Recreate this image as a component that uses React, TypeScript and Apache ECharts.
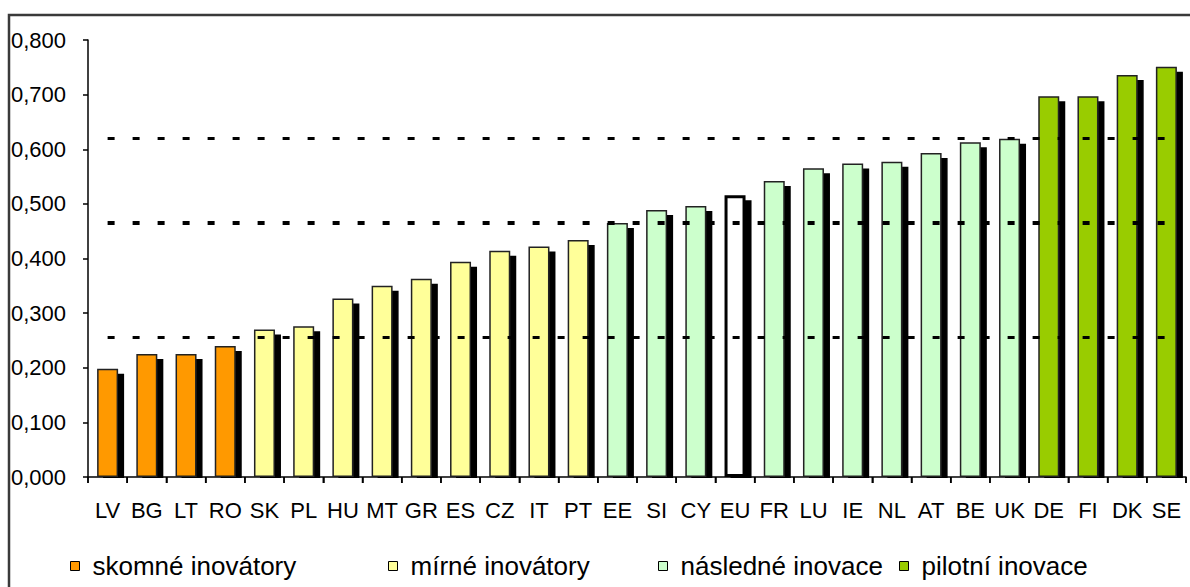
import React, { useEffect, useRef } from "react";
import * as echarts from "echarts";

const categories = ["LV","BG","LT","RO","SK","PL","HU","MT","GR","ES","CZ","IT","PT","EE","SI","CY","EU","FR","LU","IE","NL","AT","BE","UK","DE","FI","DK","SE"];
const values = [0.198,0.225,0.225,0.240,0.270,0.276,0.327,0.350,0.363,0.394,0.414,0.422,0.434,0.465,0.489,0.496,0.516,0.542,0.565,0.574,0.577,0.593,0.613,0.619,0.697,0.697,0.736,0.751];
const groupIndex = [0,0,0,0,1,1,1,1,1,1,1,1,1,2,2,2,2,2,2,2,2,2,2,2,3,3,3,3];
const groupNames = ["skomné inovátory","mírné inovátory","následné inovace","pilotní inovace"];
const groupColors = ["#FF9900","#FFFF99","#CCFFCC","#99CC00"];
const thresholds = [0.620, 0.465, 0.256];
const thresholdWidths = [3, 4, 3];
const yTicks = [0, 0.1, 0.2, 0.3, 0.4, 0.5, 0.6, 0.7, 0.8];
const highlightCategory = "EU";

const FONT = "'Liberation Sans', Arial, sans-serif";

export default function App() {
  const ref = useRef<HTMLDivElement>(null);
  useEffect(() => {
    document.body.style.margin = "0";
    if (!ref.current) return;
    const chart = echarts.init(ref.current, null, { renderer: "svg" });

    const series: any[] = groupNames.map((name, g) => ({
      name,
      type: "bar",
      barWidth: 21,
      barGap: "-100%",
      z: 2,
      itemStyle: {
        color: groupColors[g],
        borderColor: "#222",
        borderWidth: 1.5,
        shadowColor: "#000",
        shadowBlur: 0,
        shadowOffsetX: 6,
        shadowOffsetY: 5,
      },
      data: values.map((v, i) => {
        if (groupIndex[i] !== g) return null;
        if (categories[i] === highlightCategory) {
          return { value: v, itemStyle: { color: "#fff", borderColor: "#000", borderWidth: 3 } };
        }
        return v;
      }),
    }));

    series.push({
      name: "thresholds",
      type: "line",
      data: [],
      silent: true,
      markLine: {
        silent: true,
        symbol: "none",
        label: { show: false },
        z: 10,
        data: thresholds.map((t, k) => [
          { xAxis: categories[0], yAxis: t, lineStyle: { color: "#000", width: thresholdWidths[k], type: [7, 18] } },
          { xAxis: categories[categories.length - 1], yAxis: t },
        ]),
      },
    });

    const frameEl = {
      type: "rect",
      id: "frame",
      silent: true,
      shape: { x: 9, y: 15, width: 1200, height: 620 },
      style: { fill: "none", stroke: "#3a3a3a", lineWidth: 2.5 },
      z: -1,
    };

    const legendLefts = [70, 388, 658, 899];
    chart.setOption({
      animation: false,
      textStyle: { fontFamily: FONT },
      grid: { left: 88, right: 4, top: 40, bottom: 110, containLabel: false },
      xAxis: {
        type: "category",
        data: categories,
        axisLine: { lineStyle: { color: "#000", width: 1.5 } },
        axisTick: { show: true, interval: 0, length: 6, lineStyle: { color: "#000", width: 1.5 } },
        axisLabel: { color: "#000", fontSize: 22, fontFamily: FONT, margin: 22, interval: 0 },
      },
      yAxis: {
        type: "value",
        min: 0,
        max: 0.8,
        interval: 0.1,
        splitLine: { show: false },
        axisLine: { show: true, lineStyle: { color: "#000", width: 1.5 } },
        axisTick: { show: true, length: 5, lineStyle: { color: "#000", width: 1.5 } },
        axisLabel: {
          color: "#000",
          fontSize: 22,
          fontFamily: FONT,
          align: "left",
          margin: 77,
          formatter: (v: number) => {
            const nearest = yTicks.reduce((a, b) => (Math.abs(b - v) < Math.abs(a - v) ? b : a));
            return nearest.toFixed(3).replace(".", ",");
          },
        },
      },
      legend: groupNames.map((n, g) => ({
        data: [n],
        left: legendLefts[g],
        top: 553,
        padding: 0,
        icon: "rect",
        itemWidth: 9,
        itemHeight: 9,
        itemGap: 0,
        itemStyle: { borderColor: "#000", borderWidth: 1, shadowBlur: 0, shadowOffsetX: 0, shadowOffsetY: 0 },
        textStyle: { fontSize: 26, color: "#000", fontFamily: FONT, padding: [0, 0, 0, 8] },
        selectedMode: false,
      })),
      graphic: [frameEl],
      series,
    });

    // hide the part of each bar's shadow below the axis, and make sure the
    // category boundary ticks are drawn on top
    try {
      const pts = categories.map((_, i) => chart.convertToPixel({ xAxisIndex: 0, yAxisIndex: 0 }, [i, 0]) as number[]);
      const step = pts.length > 1 ? pts[1][0] - pts[0][0] : 39;
      const y0 = pts[0][1];
      const covers = pts.map((p, i) => ({
        type: "rect",
        id: "cover" + i,
        silent: true,
        shape: { x: p[0] - 12, y: y0 + 1, width: 30, height: 6 },
        style: { fill: "#fff" },
        z: 3,
      }));
      const ticks = [pts[0][0] - step / 2, ...pts.map((p) => p[0] + step / 2)].map((x, i) => ({
        type: "line",
        id: "tick" + i,
        silent: true,
        shape: { x1: x, y1: y0, x2: x, y2: y0 + 6 },
        style: { stroke: "#000", lineWidth: 1.5 },
        z: 4,
      }));
      chart.setOption({ graphic: [frameEl, ...covers, ...ticks] });
    } catch (e) {
      // keep the chart as is
    }
    return () => chart.dispose();
  }, []);
  return <div ref={ref} style={{ width: 1190, height: 587 }} />;
}
